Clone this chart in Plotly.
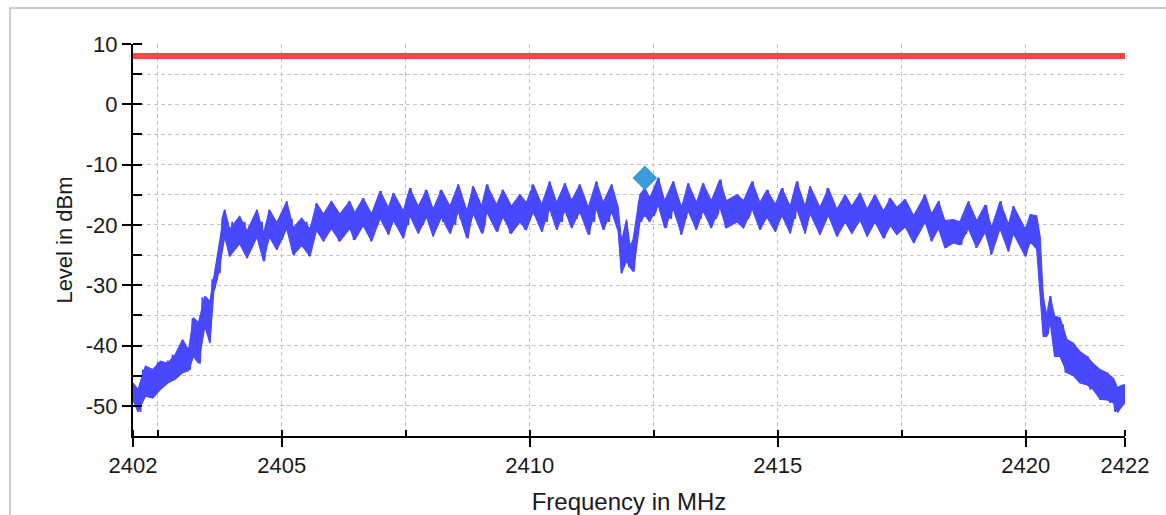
import plotly.graph_objects as go

# ---------------- data ----------------
# Sampled trace (0.05 MHz grid), alternating between the upper and lower
# edge of the noisy band seen in the picture.
freq_start_mhz = 2402.0
freq_step_mhz = 0.05
level_dbm = [
    -46.5, -49.5, -47.5, -51.0, -44.0, -48.5, -44.5, -48.5, -45.0, -48.0,
    -42.8, -47.0, -43.0, -46.0, -42.5, -46.0, -41.5, -45.5, -41.0, -44.5,
    -39.2, -44.0, -40.5, -44.0, -35.5, -41.5, -37.0, -43.0, -32.0, -37.0,
    -32.5, -39.5, -29.0, -30.5, -25.5, -28.0, -19.0, -17.5, -23.0, -25.2,
    -19.5, -23.5, -22.0, -18.6, -22.5, -19.5, -25.5, -20.0, -23.0, -21.5,
    -17.5, -22.0, -19.5, -26.0, -20.5, -17.5, -22.0, -19.0, -24.1, -19.5,
    -22.5, -21.0, -16.1, -21.5, -19.0, -25.0, -20.0, -22.0, -18.9, -22.5,
    -19.5, -25.2, -20.0, -21.0, -16.4, -21.0, -18.5, -22.7, -18.5, -20.5,
    -16.1, -20.5, -17.5, -22.7, -18.5, -21.0, -20.0, -16.1, -18.0, -22.5,
    -19.0, -21.0, -20.0, -15.6, -20.0, -17.5, -22.7, -18.0, -20.5, -19.5,
    -14.4, -19.5, -17.0, -21.6, -20.0, -14.7, -19.5, -17.0, -18.0, -22.2,
    -17.0, -20.0, -13.9, -19.5, -17.0, -21.4, -17.5, -20.0, -14.2, -19.0,
    -17.0, -21.9, -17.0, -20.0, -14.2, -19.5, -16.5, -17.5, -21.4, -18.0,
    -20.0, -13.3, -19.0, -16.5, -17.5, -22.2, -19.5, -13.6, -18.5, -16.0,
    -17.5, -21.4, -19.5, -13.3, -18.5, -16.0, -17.0, -21.1, -19.5, -14.2,
    -18.5, -16.5, -21.4, -17.5, -19.5, -19.0, -15.0, -17.5, -20.8, -17.0,
    -18.5, -13.3, -18.5, -16.5, -17.5, -21.1, -17.0, -19.5, -12.8, -18.5,
    -16.5, -20.8, -17.0, -19.5, -13.1, -18.5, -16.5, -20.5, -17.0, -19.0,
    -13.3, -18.5, -16.0, -17.5, -21.6, -17.0, -19.5, -12.8, -18.5, -16.5,
    -20.8, -17.0, -19.5, -13.3, -18.5, -17.0, -21.0, -28.0, -23.5, -19.5,
    -27.0, -24.0, -27.7, -21.0, -16.0, -19.5, -13.9, -16.0, -19.4, -16.5,
    -18.5, -17.5, -12.2, -18.0, -16.5, -20.5, -17.0, -19.0, -12.8, -18.5,
    -16.5, -21.6, -17.0, -19.0, -13.1, -18.5, -16.5, -20.8, -17.0, -19.0,
    -13.1, -18.5, -16.5, -20.5, -17.0, -19.0, -18.0, -12.5, -16.5, -20.5,
    -17.0, -20.0, -16.0, -19.5, -15.0, -19.0, -20.5, -17.0, -19.0, -18.0,
    -12.8, -18.0, -16.5, -20.8, -17.0, -19.0, -14.2, -18.5, -17.0, -21.1,
    -17.0, -19.0, -13.9, -18.5, -17.0, -21.4, -17.0, -19.0, -12.8, -18.5,
    -17.0, -21.4, -17.0, -13.6, -18.5, -16.5, -17.5, -21.6, -17.0, -19.5,
    -13.9, -18.5, -17.0, -17.5, -21.9, -17.5, -19.5, -15.0, -19.0, -17.0,
    -21.4, -17.5, -19.5, -14.7, -19.0, -17.5, -21.9, -17.5, -19.5, -15.0,
    -19.0, -17.5, -18.0, -22.2, -20.0, -15.6, -19.5, -18.0, -21.6, -18.0,
    -20.0, -15.8, -19.5, -18.0, -19.0, -23.0, -19.0, -21.0, -20.0, -15.0,
    -20.0, -18.5, -22.7, -19.0, -21.0, -16.1, -21.0, -19.5, -23.8, -20.0,
    -22.0, -19.1, -22.0, -20.5, -23.3, -20.0, -21.5, -16.1, -20.5, -19.0,
    -23.8, -19.5, -21.5, -20.5, -16.7, -19.5, -24.9, -20.5, -22.5, -20.5,
    -16.1, -21.0, -19.5, -24.4, -20.0, -16.9, -21.0, -19.5, -23.0, -21.0,
    -25.2, -22.5, -18.3, -21.5, -19.0, -24.0, -29.0, -32.0, -38.5, -38.0,
    -31.8, -37.0, -41.8, -35.5, -41.8, -36.5, -44.5, -40.0, -44.0, -39.6,
    -45.0, -41.0, -46.2, -42.0, -46.5, -41.8, -47.3, -43.5, -47.5, -44.5,
    -49.0, -45.0, -48.5, -44.5, -49.5, -46.0, -51.0, -47.0, -50.5, -46.5,
    -49.5,
]
freq_mhz = [round(freq_start_mhz + i * freq_step_mhz, 2) for i in range(len(level_dbm))]

# Envelope of the dense trace: ripple peaks / troughs with band top & bottom
envelope_freq_mhz = [
    2402.00, 2402.10, 2402.25, 2402.40, 2402.55, 2402.70, 2402.85, 2403.00,
    2403.12, 2403.22, 2403.32, 2403.45, 2403.55, 2403.63, 2403.70, 2403.78,
    2403.85, 2403.95, 2404.15, 2404.30, 2404.50, 2404.63, 2404.75, 2404.90,
    2405.10, 2405.23, 2405.40, 2405.57, 2405.70, 2405.84, 2406.00, 2406.17,
    2406.37, 2406.47, 2406.64, 2406.81, 2406.98, 2407.15, 2407.25, 2407.45,
    2407.58, 2407.75, 2407.92, 2408.05, 2408.22, 2408.39, 2408.56, 2408.73,
    2408.86, 2409.03, 2409.13, 2409.33, 2409.46, 2409.63, 2409.80, 2409.93,
    2410.07, 2410.24, 2410.40, 2410.54, 2410.71, 2410.84, 2411.01, 2411.18,
    2411.34, 2411.48, 2411.65, 2411.78, 2411.85, 2411.95, 2412.02, 2412.08,
    2412.15, 2412.22, 2412.32, 2412.42, 2412.59, 2412.72, 2412.89, 2413.06,
    2413.19, 2413.36, 2413.49, 2413.66, 2413.83, 2413.96, 2414.18, 2414.31,
    2414.48, 2414.64, 2414.78, 2414.95, 2415.08, 2415.25, 2415.38, 2415.55,
    2415.65, 2415.85, 2416.02, 2416.19, 2416.36, 2416.49, 2416.66, 2416.80,
    2416.96, 2417.13, 2417.27, 2417.40, 2417.57, 2417.74, 2417.97, 2418.10,
    2418.24, 2418.37, 2418.54, 2418.67, 2418.84, 2419.01, 2419.18, 2419.31,
    2419.48, 2419.65, 2419.75, 2419.99, 2420.09, 2420.22, 2420.29, 2420.35,
    2420.42, 2420.49, 2420.58, 2420.69, 2420.83, 2420.96, 2421.09, 2421.23,
    2421.36, 2421.50, 2421.63, 2421.77, 2421.85, 2421.90, 2422.00,
]
envelope_top_dbm = [
    -46.2, -47.3, -43.4, -44.0, -42.6, -42.9, -41.5, -39.0,
    -40.7, -35.4, -36.2, -31.8, -32.7, -28.5, -25.5, -20.8,
    -17.5, -20.7, -18.6, -21.0, -17.5, -21.5, -17.5, -19.6,
    -16.1, -20.5, -18.9, -20.7, -16.4, -18.2, -16.1, -18.2,
    -16.1, -18.0, -15.6, -18.2, -14.4, -17.1, -14.7, -17.7,
    -13.9, -16.9, -14.2, -17.4, -14.2, -16.9, -13.3, -17.7,
    -13.6, -16.9, -13.3, -16.6, -14.2, -16.9, -15.0, -16.3,
    -13.3, -16.6, -12.8, -16.3, -13.1, -16.0, -13.3, -17.1,
    -12.8, -16.3, -13.3, -17.0, -22.7, -19.1, -23.5, -22.5,
    -18.5, -15.0, -13.9, -15.5, -12.2, -16.0, -12.8, -17.1,
    -13.1, -16.3, -13.1, -16.0, -12.5, -16.0, -15.0, -16.0,
    -12.8, -16.3, -14.2, -16.6, -13.9, -16.9, -12.8, -16.9,
    -13.6, -17.1, -13.9, -17.4, -15.0, -16.9, -14.7, -17.4,
    -15.0, -17.7, -15.6, -17.1, -15.8, -18.5, -15.0, -18.2,
    -16.1, -19.3, -19.1, -19.5, -16.1, -19.3, -16.7, -20.4,
    -16.1, -19.9, -16.9, -20.7, -18.3, -18.5, -22.0, -31.8,
    -35.0, -31.8, -35.1, -35.4, -39.0, -39.6, -41.0, -41.8,
    -43.0, -44.0, -44.5, -45.5, -47.0, -46.7, -46.5,
]
envelope_bottom_dbm = [
    -49.0, -51.0, -48.4, -48.7, -47.3, -46.2, -45.6, -44.5,
    -44.2, -41.8, -42.9, -36.8, -39.6, -31.0, -29.0, -25.5,
    -22.0, -25.2, -23.1, -25.5, -22.0, -26.0, -22.0, -24.1,
    -20.6, -25.0, -23.4, -25.2, -20.9, -22.7, -20.6, -22.7,
    -20.6, -22.5, -20.1, -22.7, -18.9, -21.6, -19.2, -22.2,
    -18.4, -21.4, -18.7, -21.9, -18.7, -21.4, -17.8, -22.2,
    -18.1, -21.4, -17.8, -21.1, -18.7, -21.4, -19.5, -20.8,
    -17.8, -21.1, -17.3, -20.8, -17.6, -20.5, -17.8, -21.6,
    -17.3, -20.8, -17.8, -21.0, -28.0, -26.0, -27.0, -27.7,
    -24.0, -19.5, -18.4, -19.4, -16.7, -20.5, -17.3, -21.6,
    -17.6, -20.8, -17.6, -20.5, -17.0, -20.5, -19.5, -20.5,
    -17.3, -20.8, -18.7, -21.1, -18.4, -21.4, -17.3, -21.4,
    -18.1, -21.6, -18.4, -21.9, -19.5, -21.4, -19.2, -21.9,
    -19.5, -22.2, -20.1, -21.6, -20.3, -23.0, -19.5, -22.7,
    -20.6, -23.8, -23.0, -23.3, -20.6, -23.8, -21.2, -24.9,
    -20.6, -24.4, -21.4, -25.2, -22.8, -24.0, -31.8, -38.5,
    -38.5, -36.0, -41.8, -41.8, -44.5, -45.0, -46.2, -46.5,
    -47.3, -48.9, -49.0, -49.5, -51.1, -50.5, -49.5,
]

limit_freq_mhz = [2402, 2422]
limit_level_dbm = [8, 8]

peak_freq_mhz = [2412.32]
peak_level_dbm = [-12.2]

x_tick_vals = [2402, 2402.5, 2405, 2407.5, 2410, 2412.5, 2415, 2417.5, 2420, 2422]
x_tick_text = ["2402", "", "2405", "", "2410", "", "2415", "", "2420", "2422"]
y_tick_vals = [-50, -45, -40, -35, -30, -25, -20, -15, -10, -5, 0, 5, 10]
y_tick_text = ["-50", "", "-40", "", "-30", "", "-20", "", "-10", "", "0", "", "10"]

# ---------------- figure ----------------
FONT = "Liberation Sans, Arial, sans-serif"
TRACE_BLUE = "#4848ff"
fig = go.Figure()

# dense band (envelope) as a filled polygon
band_x = envelope_freq_mhz + envelope_freq_mhz[::-1]
band_y = envelope_top_dbm + envelope_bottom_dbm[::-1]
fig.add_trace(go.Scatter(
    x=band_x, y=band_y, mode="lines", fill="toself",
    fillcolor=TRACE_BLUE, line=dict(color=TRACE_BLUE, width=1.2),
    showlegend=False, hoverinfo="skip",
))
# sampled trace for the jagged texture
fig.add_trace(go.Scatter(
    x=freq_mhz, y=level_dbm, mode="lines",
    line=dict(color=TRACE_BLUE, width=1.8),
    showlegend=False, hoverinfo="x+y",
))
fig.add_trace(go.Scatter(
    x=limit_freq_mhz, y=limit_level_dbm, mode="lines",
    line=dict(color="#ff4545", width=6),
    showlegend=False,
))
fig.add_trace(go.Scatter(
    x=peak_freq_mhz, y=peak_level_dbm, mode="markers",
    marker=dict(symbol="diamond", size=19, color="#3a9bd8"),
    showlegend=False,
))

grid_kw = dict(showgrid=True, gridcolor="#c4c4c4", griddash="4px,3px", gridwidth=1)
fig.update_layout(
    width=1166, height=515,
    margin=dict(l=133, r=41, t=44, b=79),
    paper_bgcolor="white", plot_bgcolor="white",
    font=dict(family=FONT, color="#1a1a1a", size=22),
    xaxis=dict(
        range=[2402, 2422], tickmode="array",
        tickvals=x_tick_vals, ticktext=x_tick_text,
        showline=True, linecolor="black", linewidth=2,
        ticks="outside", ticklen=9, tickwidth=2, tickcolor="black",
        minor=dict(tickmode="array", tickvals=x_tick_vals, ticks="inside",
                   ticklen=6, tickwidth=2, tickcolor="black", showgrid=False),
        zeroline=False, tickfont=dict(size=22), automargin=False,
        title=dict(text="Frequency in MHz", font=dict(size=24), standoff=17),
        **grid_kw,
    ),
    yaxis=dict(
        range=[-55, 10], tickmode="array",
        tickvals=y_tick_vals, ticktext=y_tick_text,
        showline=True, linecolor="black", linewidth=2,
        ticks="outside", ticklen=9, tickwidth=2, tickcolor="black",
        minor=dict(tickmode="array", tickvals=y_tick_vals, ticks="inside",
                   ticklen=9, tickwidth=2, tickcolor="black", showgrid=False),
        zeroline=False, tickfont=dict(size=22), automargin=False,
        title=dict(text="Level in dBm", font=dict(size=22), standoff=7),
        **grid_kw,
    ),
    shapes=[dict(
        type="rect", xref="paper", yref="paper",
        x0=-0.124, x1=1.3, y0=-0.6, y1=1.092,
        line=dict(color="#cdcdcd", width=2), fillcolor="rgba(0,0,0,0)",
        layer="below",
    )],
)

fig.write_html("out.html")
